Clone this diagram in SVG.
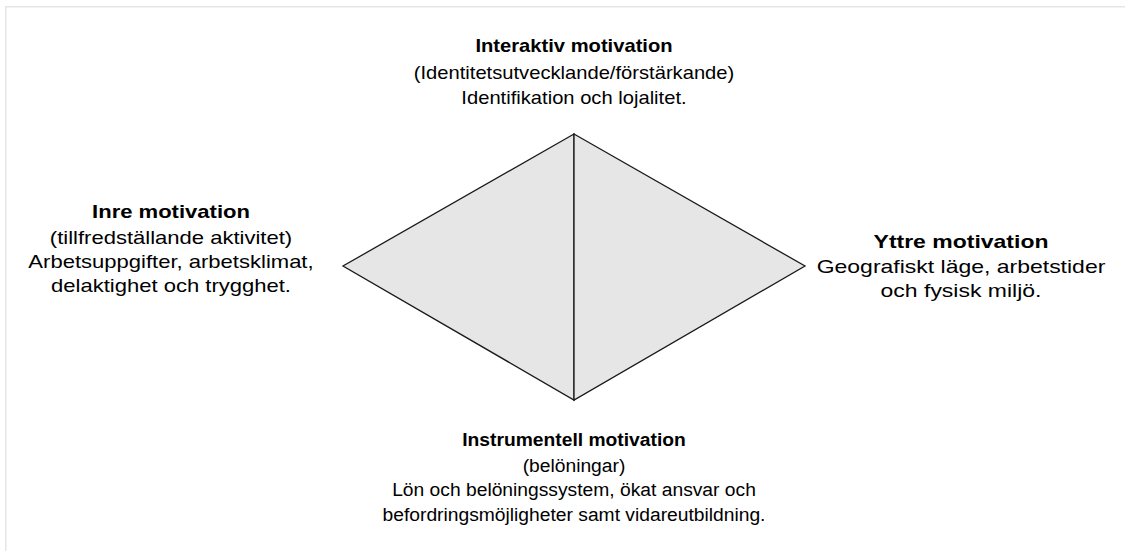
<svg xmlns="http://www.w3.org/2000/svg" width="1125" height="551" viewBox="0 0 1125 551">
<style>
.t{font-family:"Liberation Sans",Arial,sans-serif;font-size:19px;fill:#000;text-anchor:middle}
.s{font-size:18px}
.b{font-weight:bold}
.tri{fill:#e6e6e6;stroke:#1a1a1a;stroke-width:1.3;stroke-linejoin:miter}
.frame{stroke:#e6e6e6;stroke-width:1.5;fill:none}
</style>
<rect width="1125" height="551" fill="#fff"/>
<path class="frame" d="M5.75,551 V6.75 H1125"/>
<g id="diamond">
<polygon class="tri" points="574,134 343,266 574,400"/>
<polygon class="tri" points="574,134 805,266 574,400"/>
</g>
<g id="connectors"></g>
<g id="interaktiv" transform="translate(574,0) scale(1.12,1)">
<text class="t s b" x="0" y="52">Interaktiv motivation</text>
<text class="t s" x="0" y="79">(Identitetsutvecklande/förstärkande)</text>
<text class="t s" x="0" y="104">Identifikation och lojalitet.</text>
</g>
<g id="inre" transform="translate(171,0) scale(1.16,1)">
<text class="t b" x="0" y="218">Inre motivation</text>
<text class="t" x="0" y="244">(tillfredställande aktivitet)</text>
<text class="t" x="0" y="268">Arbetsuppgifter, arbetsklimat,</text>
<text class="t" x="0" y="292">delaktighet och trygghet.</text>
</g>
<g id="yttre" transform="translate(961,0) scale(1.21,1)">
<text class="t b" x="0" y="248">Yttre motivation</text>
<text class="t" x="0" y="273">Geografiskt läge, arbetstider</text>
<text class="t" x="0" y="297">och fysisk miljö.</text>
</g>
<g id="instrumentell" transform="translate(574,0) scale(1.07,1)">
<text class="t s b" x="0" y="446">Instrumentell motivation</text>
<text class="t s" x="0" y="472">(belöningar)</text>
<text class="t s" x="0" y="496">Lön och belöningssystem, ökat ansvar och</text>
<text class="t s" x="0" y="521">befordringsmöjligheter samt vidareutbildning.</text>
</g>
</svg>
